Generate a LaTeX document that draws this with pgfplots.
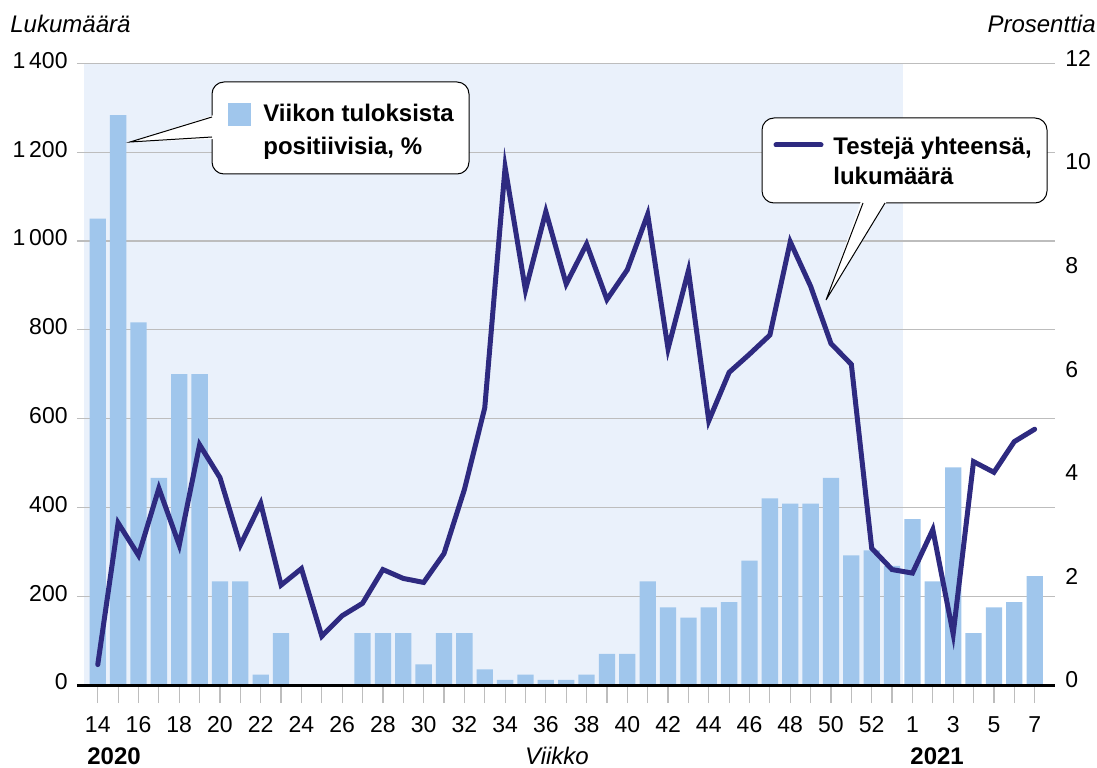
\documentclass[border=0pt]{standalone}
\usepackage{fontspec}
\setmainfont{Liberation Sans}
\usepackage{pgfplots}
\usepackage{pgfplotstable}
\pgfplotsset{compat=1.18}

\definecolor{bgblue}{HTML}{EAF1FB}
\definecolor{barcol}{HTML}{A0C6EC}
\definecolor{linecol}{HTML}{2E2A80}
\definecolor{gridcol}{HTML}{BDBDBD}

% idx: 0 = week 14/2020 ... 39 = week 53/2020, 40..46 = weeks 1..7/2021
\pgfplotstableread{
idx week bar count
0  14 9.0 46
1  15 11.0 365
2  16 7.0 292
3  17 4.0 443
4  18 6.0 315
5  19 6.0 541
6  20 2.0 467
7  21 2.0 315
8  22 0.2 409
9  23 1.0 225
10 24 0.0 262
11 25 0.0 110
12 26 0.0 156
13 27 1.0 184
14 28 1.0 260
15 29 1.0 240
16 30 0.4 231
17 31 1.0 296
18 32 1.0 440
19 33 0.3 624
20 34 0.1 1166
21 35 0.2 889
22 36 0.1 1066
23 37 0.1 903
24 38 0.2 993
25 39 0.6 868
26 40 0.6 935
27 41 2.0 1060
28 42 1.5 757
29 43 1.3 933
30 44 1.5 595
31 45 1.6 704
32 46 2.4 745
33 47 3.6 788
34 48 3.5 998
35 49 3.5 898
36 50 4.0 769
37 51 2.5 722
38 52 2.6 308
39 53 2.3 260
40 1 3.2 252
41 2 2.0 350
42 3 4.2 115
43 4 1.0 503
44 5 1.5 479
45 6 1.6 548
46 7 2.1 576
}\data

\pgfplotsset{
  base/.style={
    scale only axis, width=489pt, height=310.85pt,
    xmin=-1.02, xmax=47.0,
    at={(0,0)}, anchor=south west,
  },
  tickfont/.style={font=\fontsize{11.5}{13}\selectfont},
}

\begin{document}
\begin{tikzpicture}
% picture frame = 1097 x 767 px of the reference at 0.5pt per px
\useasboundingbox (-38.5pt,-41pt) rectangle (510pt,342.5pt);

% shaded 2020 area
\begin{axis}[base, hide axis, ymin=0, ymax=1400]
  \fill[bgblue] (axis cs:-0.67,0) rectangle (axis cs:39.52,1400);
\end{axis}

% left scale with grid
\begin{axis}[base, ymin=0, ymax=1400,
    ytick={0,200,...,1400},
    yticklabels={0,200,400,600,800,1\,000,1\,200,1\,400},
    xtick=\empty,
    ymajorgrids, major grid style={gridcol, line width=0.6pt},
    axis line style={draw=none},
    major tick length=0pt,
    yticklabel style={tickfont, anchor=east, inner xsep=0pt, xshift=-4.5pt, yshift=1.5pt},
  ]
\end{axis}

% bars, right scale
\begin{axis}[base, ymin=0, ymax=12,
    axis on top,
    axis x line*=bottom, axis y line*=right,
    x axis line style={black, line width=1.5pt},
    y axis line style={draw=none},
    ytick={0,2,...,12},
    yticklabels={0,2,4,6,8,10,12},
    ytick style={draw=none},
    yticklabel style={tickfont, anchor=west, inner xsep=0pt, xshift=-4pt, yshift=2.5pt},
    xtick={0,...,46},
    xticklabels={14,,16,,18,,20,,22,,24,,26,,28,,30,,32,,34,,36,,38,,40,,42,,44,,46,,48,,50,,52,,1,,3,,5,,7},
    tick align=outside,
    xtick style={gridcol, line width=0.6pt},
    major tick length=9pt,
    xticklabel style={tickfont, anchor=base, yshift=-14.5pt},
  ]
  \addplot[ybar, bar width=0.8, fill=barcol, draw=none] table[x=idx, y=bar] {\data};
\end{axis}

% line, left scale
\begin{axis}[base, hide axis, ymin=0, ymax=1400]
  \addplot[linecol, line width=2.5pt, line join=miter, line cap=round] table[x=idx, y=count] {\data};
\end{axis}

\begin{scope}[x=0.5pt,y=-0.5pt,shift={(-77,-685)}]
  % titles
  \node[anchor=base west, inner sep=0pt, font=\fontsize{12}{14}\selectfont\itshape] at (10,33) {Lukumäärä};
  \node[anchor=base east, inner sep=0pt, font=\fontsize{12}{14}\selectfont\itshape] at (1096,33) {Prosenttia};
  \node[anchor=base, inner sep=0pt, font=\fontsize{12}{14}\selectfont\itshape] at (557,764) {Viikko};
  \node[anchor=base west, inner sep=0pt, font=\fontsize{12}{14}\selectfont\bfseries] at (87,764) {2020};
  \node[anchor=base west, inner sep=0pt, font=\fontsize{12}{14}\selectfont\bfseries] at (910,764) {2021};

  % callout 1
  \draw[fill=white, line width=0.5pt, rounded corners=6pt] (212,82) rectangle (469,174);
  \fill[white] (214,115) -- (130,142) -- (214,139) -- cycle;
  \draw[line width=0.5pt] (212,117) -- (130,142) -- (212,137);
  \fill[barcol] (228,103) rectangle (251,126);
  \node[anchor=base west, inner sep=0pt, font=\fontsize{12}{14}\selectfont\bfseries] at (263,122) {Viikon tuloksista};
  \node[anchor=base west, inner sep=0pt, font=\fontsize{12}{14}\selectfont\bfseries] at (263,155) {positiivisia, \%};

  % callout 2
  \draw[fill=white, line width=0.5pt, rounded corners=6pt] (762,118) rectangle (1047,203);
  \fill[white] (861,201) -- (826,300) -- (887,201) -- cycle;
  \draw[line width=0.5pt] (863,203) -- (826,300) -- (885,203);
  \draw[linecol, line width=2.5pt, line cap=round] (776,145) -- (821,145);
  \node[anchor=base west, inner sep=0pt, font=\fontsize{12}{14}\selectfont\bfseries] at (833,155) {Testejä yhteensä,};
  \node[anchor=base west, inner sep=0pt, font=\fontsize{12}{14}\selectfont\bfseries] at (833,185) {lukumäärä};
\end{scope}
\end{tikzpicture}
\end{document}
